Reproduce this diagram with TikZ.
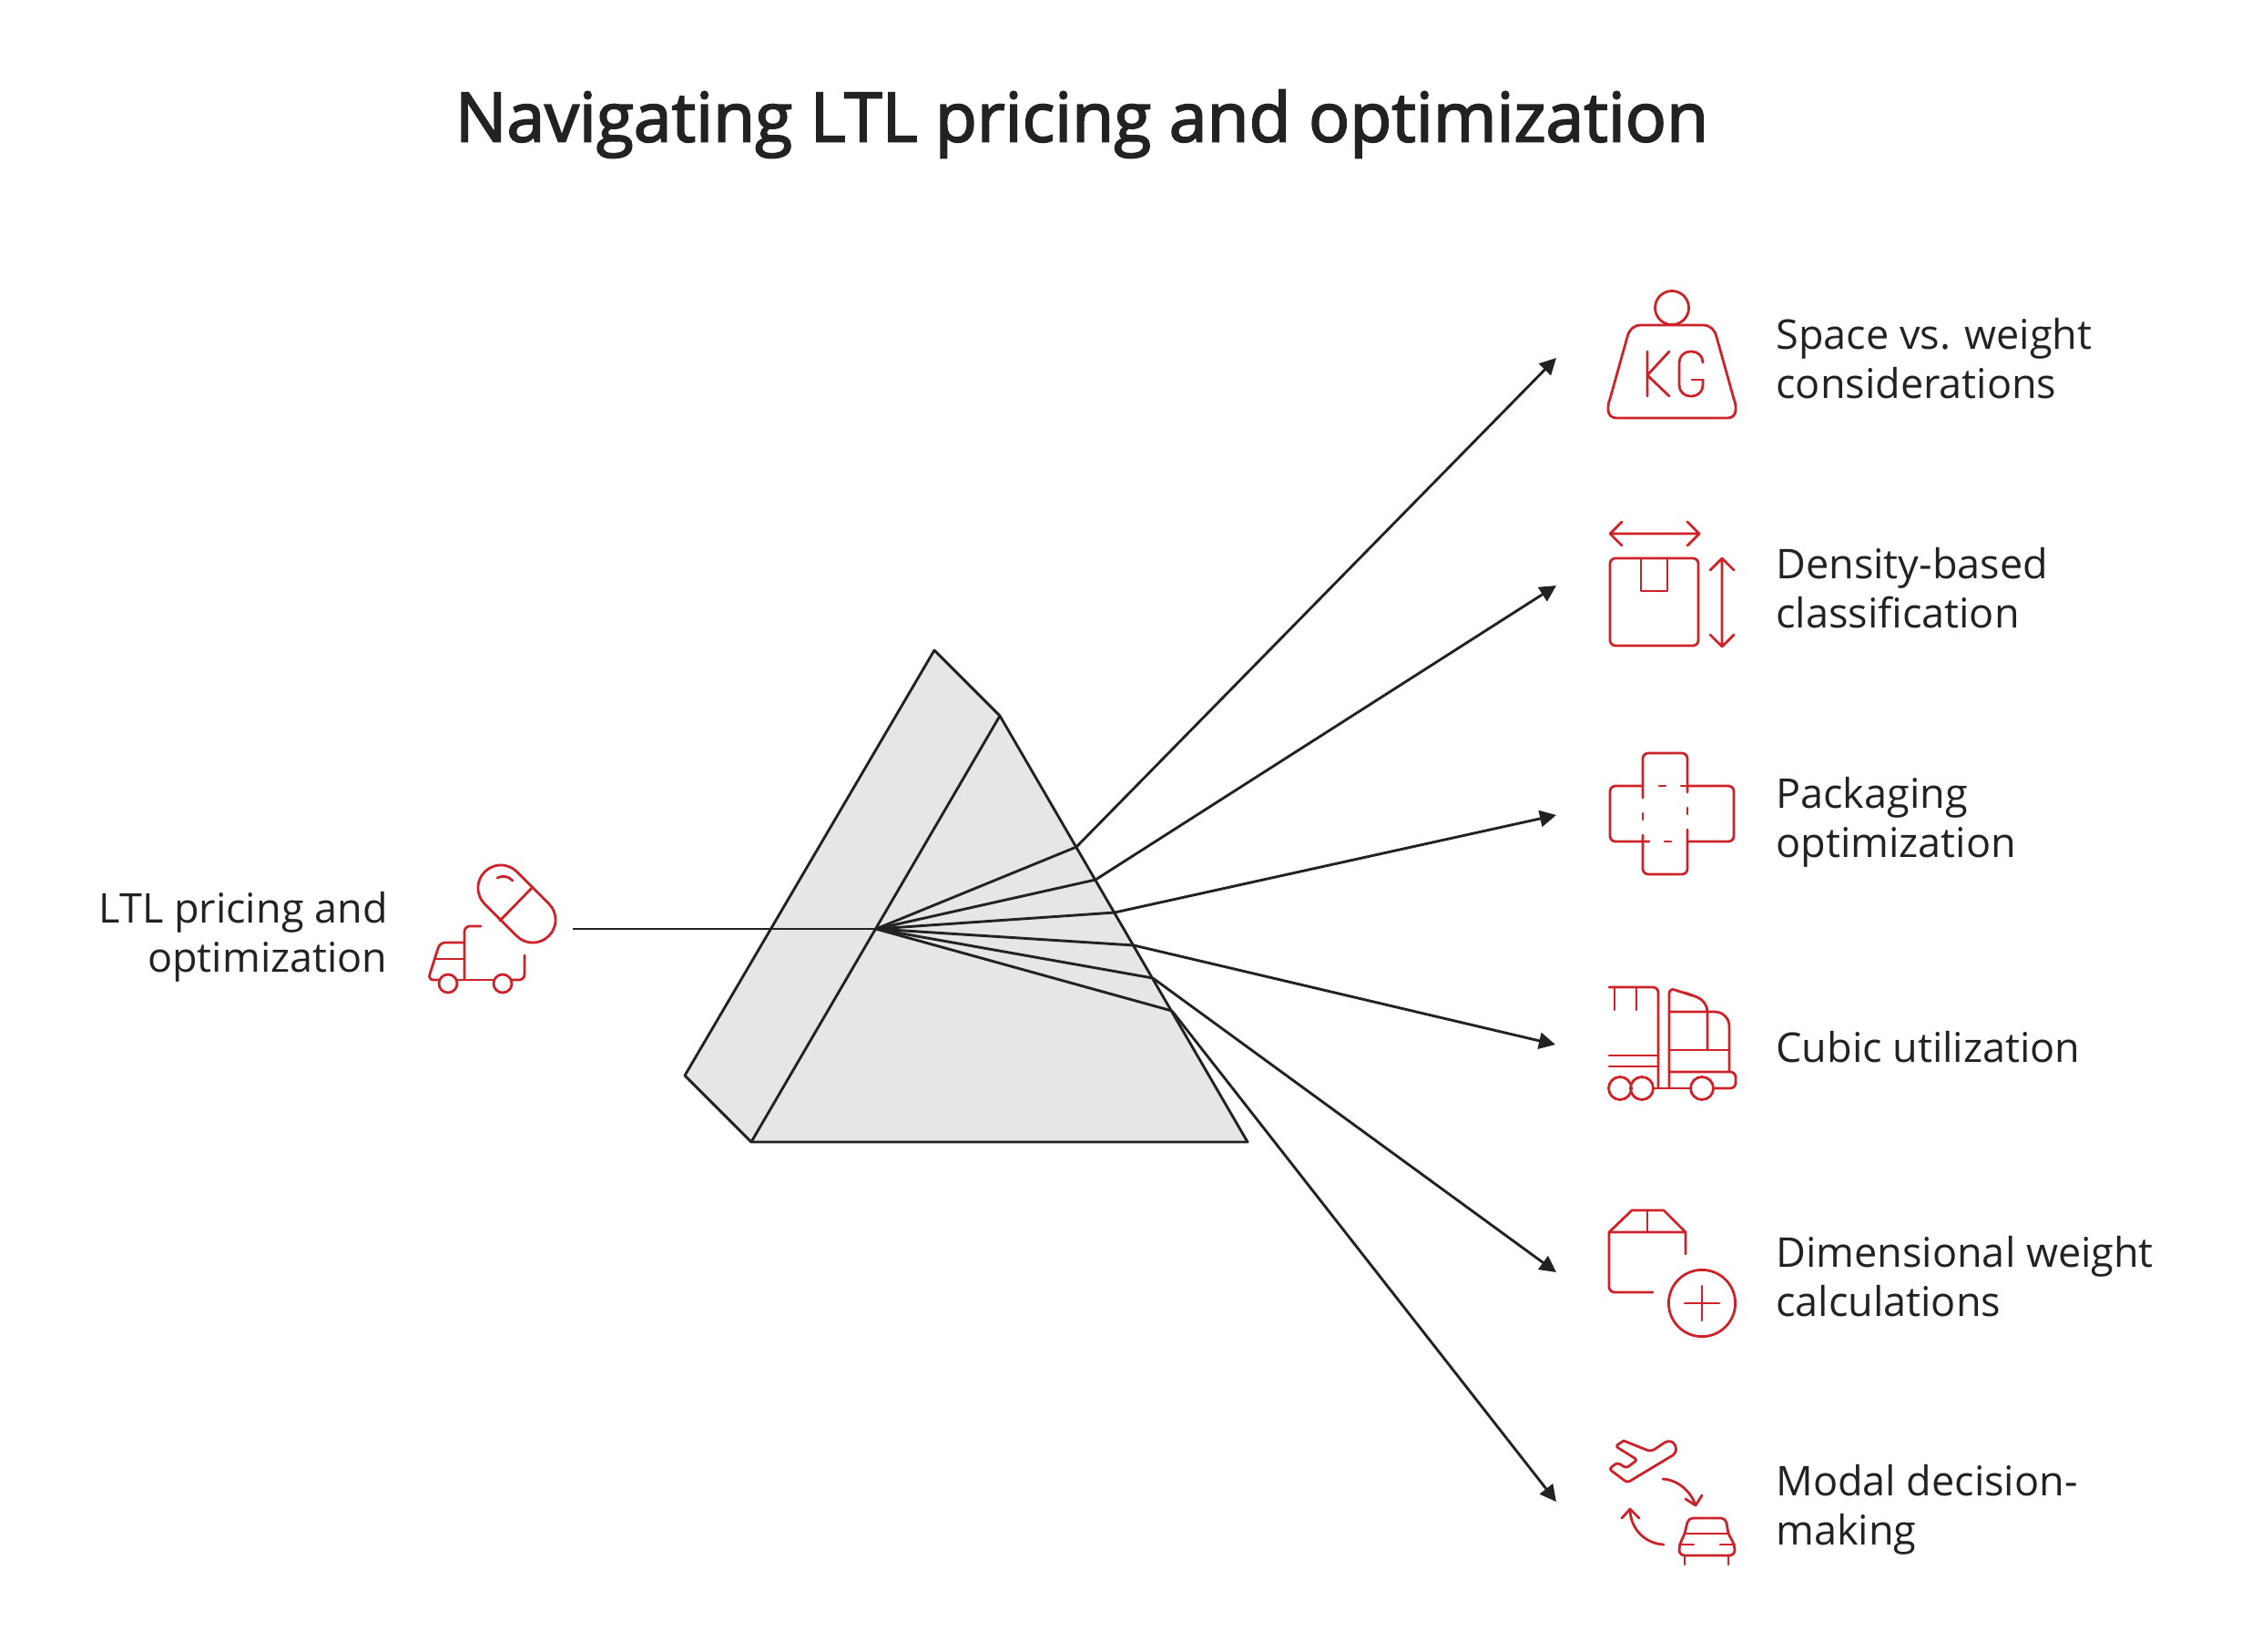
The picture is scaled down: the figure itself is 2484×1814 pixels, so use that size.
\documentclass[tikz,border=0pt]{standalone}
\usepackage{fontspec}
\setmainfont{Open Sans}
\usetikzlibrary{arrows.meta}
\definecolor{inkdark}{HTML}{222222}
\definecolor{iconred}{HTML}{CC2229}
\definecolor{prismgray}{HTML}{E6E6E6}
\tikzset{
    ray/.style={draw=inkdark, line width=1.45pt},
    icon/.style={draw=iconred, line width=1.4pt, line cap=round, line join=round},
    label/.style={text=inkdark, inner sep=0pt, font=\fontsize{22.5}{27}\selectfont},
}
\begin{document}
\begin{tikzpicture}[x=0.5pt, y=-0.5pt, >={Stealth[inset=0pt,length=9pt,width=9pt]}]
    \useasboundingbox (0,0) rectangle (2484,1814);

    \node[text=inkdark, font=\fontsize{37.5}{46}\selectfont\addfontfeature{FakeBold=2.5}] (title) at (1188,136) {Navigating LTL pricing and optimization};

    \node[label, align=right, anchor=east] (Lin) at (426,1029) {LTL pricing and\\optimization};
    \node[label, align=left, anchor=west] (L1) at (1950,394) {Space vs. weight\\considerations};
    \node[label, align=left, anchor=west] (L2) at (1950,646) {Density-based\\classification};
    \node[label, align=left, anchor=west] (L3) at (1950,903) {Packaging\\optimization};
    \node[label, align=left, anchor=west] (L4) at (1950,1150) {Cubic utilization};
    \node[label, align=left, anchor=west] (L5) at (1950,1402) {Dimensional weight\\calculations};
    \node[label, align=left, anchor=west] (L6) at (1950,1658) {Modal decision-\\making};

    \coordinate (Pt) at (1098,786);
    \coordinate (Pr) at (1370,1254);
    \coordinate (Pl) at (825,1254);
    \coordinate (Bt) at (1026,714);
    \coordinate (Bl) at (752,1181);
    \coordinate (Fo) at (962,1020);
    \coordinate (Src) at (629,1020);
    \coordinate (R1) at (1182,930);
    \coordinate (R2) at (1203,966);
    \coordinate (R3) at (1224,1002);
    \coordinate (R4) at (1245,1038);
    \coordinate (R5) at (1266,1074);
    \coordinate (R6) at (1287,1110);
    \coordinate (T1) at (1709,393);
    \coordinate (T2) at (1709,643);
    \coordinate (T3) at (1709,895);
    \coordinate (T4) at (1708,1147);
    \coordinate (T5) at (1709,1397);
    \coordinate (T6) at (1709,1649);

    \path[ray, fill=prismgray, line join=round] (Bt) -- (Pt) -- (Pr) -- (Pl) -- (Bl) -- cycle;
    \path[ray] (Pt) -- (Pl);
    \path[ray] (Src) -- (Fo);
    \path[every edge/.style={ray}]
        (Fo) edge (R1) edge (R2) edge (R3) edge (R4) edge (R5) edge (R6);
    \path[every edge/.style={ray, ->}]
        (R1) edge (T1)
        (R2) edge (T2)
        (R3) edge (T3)
        (R4) edge (T4)
        (R5) edge (T5)
        (R6) edge (T6);

    % source icon
    \node[icon, rotate=-45, minimum width=49.75pt, minimum height=25pt, rounded corners=12.4pt, inner sep=0pt] (pill) at (567.5,992.5) {};
    \draw[icon] (585,974) -- (549,1011);
    \draw[icon] (546,964) .. controls (552,961) and (558,962) .. (563,967);
    \draw[icon] (492,1080) circle[radius=5pt] (552,1080) circle[radius=5pt];
    \draw[icon, rounded corners=3pt] (482,1076) -- (470,1076) -- (483,1035) -- (510,1035);
    \draw[icon] (478,1053) -- (510,1053);
    \draw[icon, rounded corners=3pt] (510,1076) -- (510,1017) -- (528,1017);
    \draw[icon] (502,1076) -- (542,1076);
    \draw[icon, rounded corners=3pt] (562,1076) -- (576,1076) -- (576,1049);

    % weight
    \draw[icon] (1836,338) circle[radius=9.25pt];
    \draw[icon] (1802,357) -- (1870,357) .. controls (1878,357) and (1883,362) .. (1885,370) -- (1904,438)
        .. controls (1906,443) and (1906,445) .. (1906,450) .. controls (1906,456) and (1902,459) .. (1897,459)
        -- (1775,459) .. controls (1770,459) and (1766,456) .. (1766,450) .. controls (1766,445) and (1766,443) .. (1768,438)
        -- (1787,370) .. controls (1789,362) and (1794,357) .. (1802,357) -- cycle;
    \draw[icon] (1809,386) -- (1809,435) (1833,386) -- (1809,412) -- (1833,435);
    \draw[icon, rounded corners=6pt] (1870,398) -- (1870,386) -- (1844,386) -- (1844,435) -- (1870,435) -- (1870,417);
    \draw[icon] (1870,417) -- (1858,417);

    % box
    \draw[icon, rounded corners=3pt] (1768,613) rectangle (1865,709);
    \draw[icon] (1802,613) -- (1802,649) -- (1831,649) -- (1831,613);
    \draw[icon] (1768,586) -- (1866,586) (1781,573) -- (1768,586) -- (1781,599) (1853,573) -- (1866,586) -- (1853,599);
    \draw[icon] (1891,613) -- (1891,710) (1878,626) -- (1891,613) -- (1904,626) (1878,697) -- (1891,710) -- (1904,697);

    % carton net
    \draw[icon, rounded corners=3pt] (1811,924) -- (1768,924) -- (1768,863) -- (1804,863);
    \draw[icon, rounded corners=3pt] (1804,876) -- (1804,827) -- (1853,827) -- (1853,870);
    \draw[icon, rounded corners=3pt] (1853,863) -- (1904,863) -- (1904,924) -- (1853,924);
    \draw[icon, rounded corners=3pt] (1804,917) -- (1804,960) -- (1853,960) -- (1853,911);
    \draw[icon] (1822,863) -- (1829,863) (1846,863) -- (1853,863) (1804,893) -- (1804,900) (1853,887) -- (1853,894) (1828,924) -- (1835,924);

    % truck
    \draw[icon, rounded corners=3pt] (1767,1084) -- (1821,1084) -- (1821,1195);
    \draw[icon] (1773,1084) -- (1773,1109) (1797,1084) -- (1797,1109);
    \draw[icon] (1767,1159) -- (1821,1159) (1767,1171) -- (1821,1171);
    \draw[icon] (1779,1195) circle[radius=6.25pt] (1803,1195) circle[radius=6.25pt] (1869,1195) circle[radius=6.25pt];
    \draw[icon] (1816,1195) -- (1857,1195);
    \draw[icon, rounded corners=3pt] (1882,1195) -- (1906,1195) -- (1906,1177) -- (1833,1177);
    \draw[icon, rounded corners=3pt] (1833,1195) -- (1833,1085) -- (1858,1093);
    \draw[icon, rounded corners=6pt] (1850,1090) -- (1875,1099) -- (1875,1153);
    \draw[icon, rounded corners=8pt] (1833,1111) -- (1899,1111) -- (1899,1177);
    \draw[icon] (1833,1153) -- (1899,1153);

    % carton plus
    \draw[icon] (1851,1377) -- (1851,1353) -- (1827,1329) -- (1792,1329) -- (1767,1353) -- (1851,1353);
    \draw[icon] (1809,1329) -- (1809,1353);
    \draw[icon, rounded corners=3pt] (1767,1353) -- (1767,1419) -- (1815,1419);
    \draw[icon] (1869,1431) circle[radius=18.3pt];
    \draw[icon] (1850,1431) -- (1888,1431) (1869,1412) -- (1869,1450);

    % plane and car
    \draw[icon, rounded corners=2pt] (1783,1582) -- (1813,1594) -- (1828,1584);
    \draw[icon] (1828,1584) .. controls (1838,1578) and (1845,1592) .. (1837,1598);
    \draw[icon, rounded corners=1.5pt] (1837,1598) -- (1787,1628) -- (1767,1613) -- (1776,1606) -- (1786,1612) -- (1798,1603) -- (1774,1588) -- (1783,1582);
    \draw[icon] (1826,1624) .. controls (1843,1625) and (1857,1638) .. (1862,1653);
    \draw[icon] (1851,1646) -- (1862,1653) -- (1869,1642);
    \draw[icon] (1827,1696) .. controls (1806,1695) and (1790,1678) .. (1790,1657);
    \draw[icon] (1781,1667) -- (1790,1657) -- (1800,1667);
    \draw[icon, rounded corners=2.5pt] (1850,1684) -- (1854,1667) -- (1895,1667) -- (1898,1684);
    \draw[icon, rounded corners=3pt] (1850,1684) -- (1844,1697) -- (1844,1708) -- (1905,1708) -- (1905,1697) -- (1898,1684);
    \draw[icon] (1850,1684) -- (1898,1684);
    \draw[icon] (1844,1696) -- (1860,1696) (1889,1696) -- (1905,1696);
    \draw[icon] (1850,1708) -- (1850,1718) (1898,1708) -- (1898,1718);
\end{tikzpicture}
\end{document}
